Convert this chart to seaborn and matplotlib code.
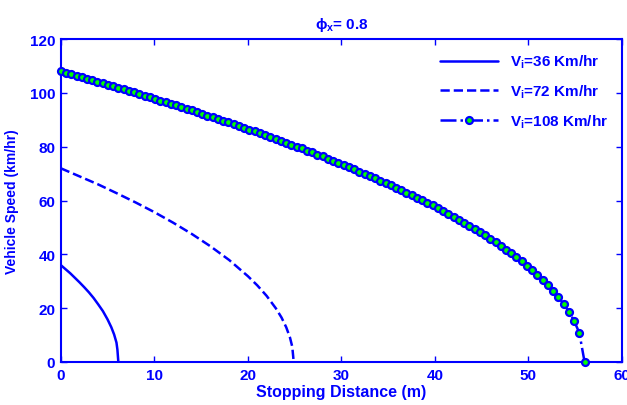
import matplotlib
matplotlib.use("Agg")
import matplotlib.pyplot as plt
import seaborn as sns

# stopping curves (distance in m, speed in km/hr)
dist_36 = [0.0, 0.5, 1.0, 1.5, 2.0, 2.5, 3.0, 3.5, 4.0, 4.5, 5.0, 5.4, 5.7, 5.95, 6.05, 6.15]
speed_36 = [36.0, 34.5, 33.0, 31.3, 29.6, 27.8, 25.9, 23.8, 21.4, 18.9, 15.8, 12.9, 10.2, 7.2, 4.6, 0.0]

dist_72 = [0.0, 2.0, 4.0, 6.0, 8.0, 10.0, 12.0, 14.0, 16.0, 18.0, 20.0, 21.0, 22.0,
           23.0, 23.6, 24.1, 24.5, 24.75, 24.9]
speed_72 = [72.0, 69.0, 66.0, 62.7, 59.3, 55.7, 51.8, 47.6, 43.0, 37.9, 31.9, 28.5, 24.6,
            19.9, 16.5, 12.9, 9.1, 5.6, 0.0]

dist_108 = [0.00, 0.56, 1.12, 1.68, 2.24, 2.80, 3.36, 3.92, 4.48, 5.04,
            5.60, 6.16, 6.72, 7.28, 7.84, 8.40, 8.96, 9.52, 10.08, 10.64,
            11.20, 11.76, 12.32, 12.88, 13.44, 14.00, 14.56, 15.12, 15.68, 16.24,
            16.80, 17.36, 17.92, 18.48, 19.04, 19.60, 20.16, 20.72, 21.28, 21.84,
            22.40, 22.96, 23.52, 24.08, 24.64, 25.20, 25.76, 26.32, 26.88, 27.44,
            28.00, 28.56, 29.12, 29.68, 30.24, 30.80, 31.36, 31.92, 32.48, 33.04,
            33.60, 34.16, 34.72, 35.28, 35.84, 36.40, 36.96, 37.52, 38.08, 38.64,
            39.20, 39.76, 40.32, 40.88, 41.44, 42.00, 42.56, 43.12, 43.68, 44.24,
            44.80, 45.36, 45.92, 46.48, 47.04, 47.60, 48.16, 48.72, 49.28, 49.84,
            50.40, 50.96, 51.52, 52.08, 52.64, 53.20, 53.76, 54.32, 54.88, 55.44,
            56.00]
speed_108 = [108.0, 107.5, 106.9, 106.4, 105.8, 105.3, 104.7, 104.2, 103.6, 103.0,
             102.5, 101.9, 101.3, 100.7, 100.2, 99.6, 99.0, 98.4, 97.8, 97.2,
             96.6, 96.0, 95.4, 94.8, 94.2, 93.5, 92.9, 92.3, 91.6, 91.0,
             90.4, 89.7, 89.1, 88.4, 87.7, 87.1, 86.4, 85.7, 85.0, 84.4,
             83.7, 83.0, 82.3, 81.5, 80.8, 80.1, 79.4, 78.6, 77.9, 77.1,
             76.4, 75.6, 74.8, 74.0, 73.2, 72.4, 71.6, 70.8, 70.0, 69.2,
             68.3, 67.4, 66.6, 65.7, 64.8, 63.9, 63.0, 62.0, 61.1, 60.1,
             59.2, 58.2, 57.1, 56.1, 55.1, 54.0, 52.9, 51.8, 50.7, 49.5,
             48.3, 47.1, 45.8, 44.5, 43.2, 41.8, 40.4, 38.9, 37.4, 35.8,
             34.2, 32.4, 30.5, 28.6, 26.5, 24.1, 21.6, 18.7, 15.3, 10.8,
             0.0]

x_ticks = [0, 10, 20, 30, 40, 50, 60]
y_ticks = [0, 20, 40, 60, 80, 100, 120]

blue = "#0000ff"

sns.set_style("ticks")
plt.rcParams["font.family"] = ["Liberation Sans", "DejaVu Sans"]
plt.rcParams["mathtext.fontset"] = "custom"
plt.rcParams["mathtext.rm"] = "Liberation Sans:bold"
plt.rcParams["mathtext.bf"] = "Liberation Sans:bold"
plt.rcParams["mathtext.it"] = "Liberation Sans:bold"

fig, ax = plt.subplots(figsize=(6.27, 4.06), dpi=100)
fig.subplots_adjust(left=0.097, right=0.992, top=0.901, bottom=0.106)

sns.lineplot(x=dist_36, y=speed_36, ax=ax, sort=False, color=blue, lw=1.8,
             linestyle="-", label=r"V$_\mathbf{i}$=36 Km/hr")
sns.lineplot(x=dist_72, y=speed_72, ax=ax, sort=False, color=blue, lw=1.8,
             linestyle="--", label=r"V$_\mathbf{i}$=72 Km/hr")
sns.lineplot(x=dist_108, y=speed_108, ax=ax, sort=False, color=blue, lw=1.8,
             linestyle="-.", marker="o", markersize=5, markerfacecolor="#00ff00",
             markeredgecolor=blue, markeredgewidth=1.6, clip_on=False, zorder=5,
             label=r"V$_\mathbf{i}$=108 Km/hr")

ax.set_xlim(0, 60)
ax.set_ylim(0, 120)
ax.set_xticks(x_ticks)
ax.set_yticks(y_ticks)
ax.tick_params(direction="in", length=4, width=1, colors=blue, labelsize=11,
               top=True, right=True, pad=4)
for lbl in ax.get_xticklabels() + ax.get_yticklabels():
    lbl.set_fontweight("bold")
    lbl.set_color(blue)
for sp in ax.spines.values():
    sp.set_visible(True)
    sp.set_color(blue)
    sp.set_linewidth(1.5)

ax.set_xlabel("Stopping Distance (m)", color=blue, fontweight="bold", fontsize=11.5, labelpad=2)
ax.set_ylabel("Vehicle Speed (km/hr)", color=blue, fontweight="bold", fontsize=10, labelpad=8)
ax.set_title(r"$\phi_\mathbf{x}$= 0.8", color=blue, fontweight="bold", fontsize=11, pad=8)

leg = ax.legend(loc="upper right", frameon=False, fontsize=11, handlelength=3.8,
                labelspacing=0.8, borderaxespad=0.5)
for t in leg.get_texts():
    t.set_color(blue)
    t.set_fontweight("bold")

fig.savefig("out.png", dpi=100)
